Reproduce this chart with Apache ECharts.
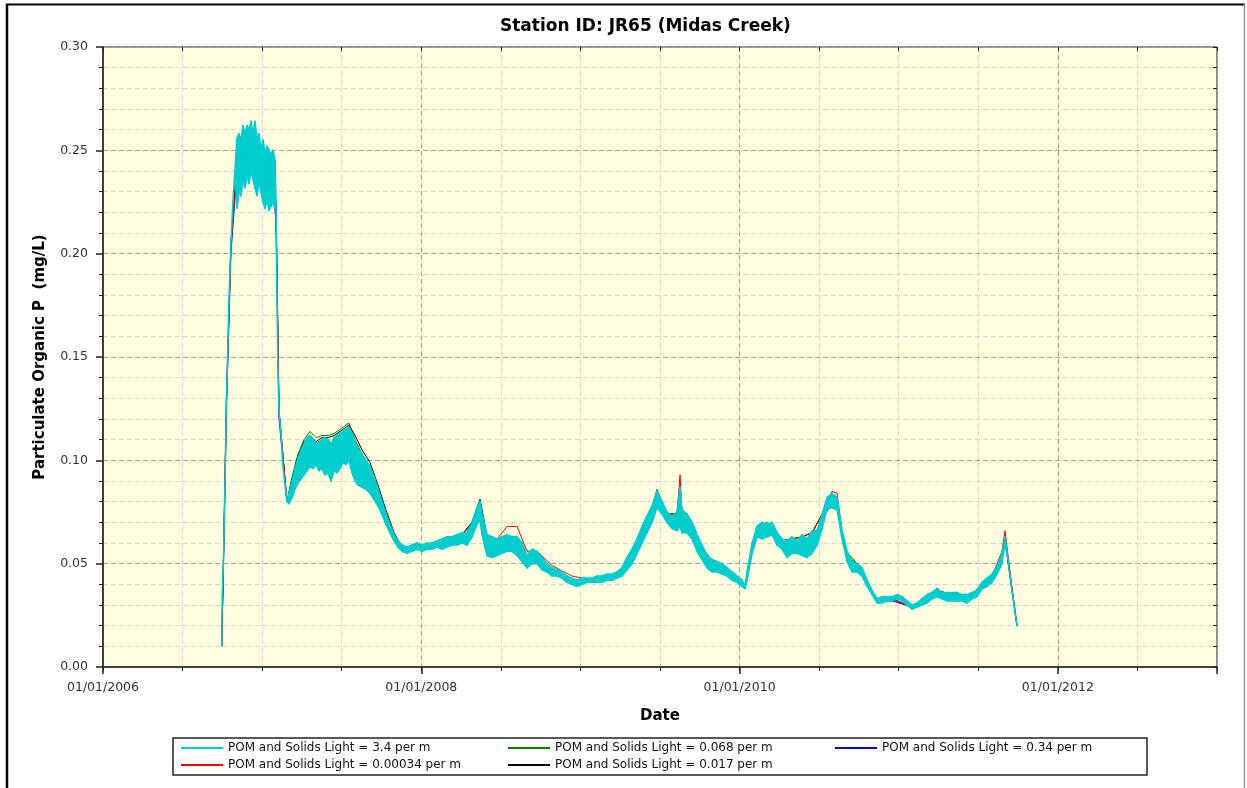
<!DOCTYPE html>
<html>
<head>
    <meta charset="UTF-8">
    <title>Station ID: JR65 (Midas Creek)</title>
    <script src="https://cdn.jsdelivr.net/npm/echarts@6/dist/echarts.min.js"></script>
    <style>
        html, body { margin: 0; padding: 0; background: #fff; }
        #chart { width: 1247px; height: 788px; }
    </style>
</head>
<body>
    <div id="chart"></div>
    <script>
        var names = [
            'POM and Solids Light = 3.4 per m',
            'POM and Solids Light = 0.068 per m',
            'POM and Solids Light = 0.34 per m',
            'POM and Solids Light = 0.00034 per m',
            'POM and Solids Light = 0.017 per m'
        ];

        // 3.4 per m run: dates (decimal year) with the daily high / low of the band
        var cyanYears = [
            2006.746, 2006.749, 2006.757, 2006.767, 2006.776, 2006.792, 2006.804, 2006.817, 2006.829,
            2006.842, 2006.855, 2006.867, 2006.880, 2006.892, 2006.905, 2006.917, 2006.930, 2006.943, 2006.955,
            2006.968, 2006.980, 2006.993, 2007.005, 2007.018, 2007.031, 2007.043, 2007.056, 2007.068, 2007.081,
            2007.087, 2007.093, 2007.100, 2007.106, 2007.119, 2007.131, 2007.144, 2007.156,
            2007.169, 2007.188, 2007.206, 2007.225, 2007.244, 2007.263, 2007.282, 2007.301, 2007.320, 2007.338,
            2007.357, 2007.376, 2007.395, 2007.414, 2007.433, 2007.452, 2007.470, 2007.489, 2007.508, 2007.527,
            2007.546, 2007.565, 2007.584, 2007.602,
            2007.628, 2007.653, 2007.678, 2007.703, 2007.728, 2007.753, 2007.778, 2007.803, 2007.829, 2007.854,
            2007.879, 2007.910, 2007.942, 2007.973, 2008.005, 2008.036, 2008.067, 2008.099, 2008.130, 2008.162,
            2008.193, 2008.224, 2008.256, 2008.287, 2008.319, 2008.350, 2008.369, 2008.382, 2008.413, 2008.444,
            2008.476, 2008.507, 2008.539, 2008.570, 2008.602, 2008.633, 2008.664, 2008.696, 2008.727, 2008.759,
            2008.790, 2008.822, 2008.853, 2008.884, 2008.916, 2008.947, 2008.979, 2009.010, 2009.041, 2009.073,
            2009.104, 2009.136, 2009.167, 2009.198, 2009.230, 2009.261, 2009.293, 2009.324, 2009.356, 2009.387,
            2009.418, 2009.450, 2009.481, 2009.513, 2009.544, 2009.576, 2009.607, 2009.626, 2009.638, 2009.670,
            2009.701, 2009.733, 2009.764, 2009.796, 2009.827, 2009.858, 2009.890, 2009.921, 2009.953, 2009.984,
            2010.016, 2010.034, 2010.047, 2010.079, 2010.110, 2010.141, 2010.173, 2010.204, 2010.236, 2010.267,
            2010.299, 2010.330, 2010.361, 2010.393, 2010.424, 2010.456, 2010.487, 2010.519, 2010.550, 2010.581,
            2010.613, 2010.644, 2010.676, 2010.707, 2010.738, 2010.770, 2010.801, 2010.833, 2010.864, 2010.896,
            2010.927, 2010.958, 2010.990, 2011.021, 2011.052, 2011.084, 2011.115, 2011.147, 2011.178, 2011.209,
            2011.241, 2011.272, 2011.304, 2011.335, 2011.366, 2011.398, 2011.429, 2011.461, 2011.492, 2011.524,
            2011.555, 2011.587, 2011.618, 2011.649, 2011.668, 2011.687, 2011.706, 2011.725, 2011.743
        ];
        var cyanHigh = [
            0.010, 0.034, 0.052, 0.090, 0.130, 0.178, 0.205, 0.226, 0.240,
            0.256, 0.258, 0.255, 0.262, 0.258, 0.262, 0.260, 0.264, 0.258, 0.264,
            0.255, 0.258, 0.250, 0.255, 0.249, 0.252, 0.250, 0.248, 0.250, 0.245,
            0.225, 0.180, 0.140, 0.124, 0.112, 0.097, 0.088, 0.080,
            0.084, 0.090, 0.096, 0.101, 0.105, 0.108, 0.111, 0.112, 0.110, 0.108,
            0.109, 0.110, 0.111, 0.110, 0.108, 0.111, 0.112, 0.113, 0.114, 0.115,
            0.116, 0.113, 0.109, 0.106,
            0.103, 0.100, 0.097, 0.092, 0.086, 0.080, 0.074, 0.069, 0.064, 0.061,
            0.059, 0.058, 0.059, 0.060, 0.059, 0.060, 0.060, 0.061, 0.062, 0.063,
            0.063, 0.064, 0.065, 0.065, 0.070, 0.077, 0.080, 0.074, 0.064, 0.063,
            0.062, 0.063, 0.064, 0.063, 0.063, 0.060, 0.054, 0.057, 0.056, 0.053,
            0.050, 0.048, 0.047, 0.046, 0.044, 0.043, 0.042, 0.043, 0.043, 0.043,
            0.044, 0.044, 0.045, 0.045, 0.046, 0.048, 0.053, 0.057, 0.062, 0.068,
            0.073, 0.078, 0.085, 0.080, 0.075, 0.073, 0.075, 0.087, 0.076, 0.074,
            0.070, 0.064, 0.059, 0.054, 0.052, 0.051, 0.050, 0.048, 0.046, 0.044,
            0.042, 0.039, 0.046, 0.060, 0.068, 0.070, 0.069, 0.070, 0.065, 0.062,
            0.061, 0.063, 0.061, 0.064, 0.062, 0.066, 0.066, 0.074, 0.082, 0.084,
            0.082, 0.066, 0.056, 0.051, 0.050, 0.048, 0.042, 0.037, 0.033, 0.034,
            0.034, 0.034, 0.035, 0.034, 0.032, 0.030, 0.031, 0.033, 0.035, 0.036,
            0.038, 0.036, 0.036, 0.036, 0.036, 0.035, 0.035, 0.036, 0.037, 0.041,
            0.043, 0.045, 0.049, 0.055, 0.063, 0.052, 0.040, 0.030, 0.020
        ];
        var cyanLow = [
            0.010, 0.034, 0.052, 0.090, 0.130, 0.178, 0.205, 0.226, 0.240,
            0.222, 0.230, 0.228, 0.236, 0.232, 0.238, 0.234, 0.240, 0.236, 0.232,
            0.228, 0.235, 0.230, 0.225, 0.222, 0.226, 0.221, 0.223, 0.225, 0.222,
            0.225, 0.180, 0.140, 0.124, 0.112, 0.097, 0.088, 0.080,
            0.079, 0.082, 0.086, 0.089, 0.091, 0.093, 0.095, 0.097, 0.096, 0.098,
            0.095, 0.096, 0.093, 0.094, 0.090, 0.095, 0.094, 0.096, 0.099, 0.098,
            0.100, 0.094, 0.090, 0.088,
            0.087, 0.086, 0.084, 0.081, 0.078, 0.074, 0.069, 0.065, 0.061, 0.058,
            0.056, 0.055, 0.056, 0.057, 0.056, 0.057, 0.057, 0.058, 0.057, 0.058,
            0.059, 0.059, 0.060, 0.059, 0.063, 0.069, 0.071, 0.064, 0.054, 0.053,
            0.054, 0.055, 0.056, 0.056, 0.054, 0.051, 0.048, 0.050, 0.050, 0.047,
            0.046, 0.044, 0.044, 0.043, 0.041, 0.040, 0.039, 0.040, 0.041, 0.041,
            0.041, 0.041, 0.042, 0.042, 0.043, 0.044, 0.047, 0.050, 0.055, 0.060,
            0.065, 0.070, 0.077, 0.074, 0.070, 0.067, 0.066, 0.068, 0.065, 0.065,
            0.062, 0.056, 0.052, 0.048, 0.046, 0.046, 0.045, 0.044, 0.042, 0.041,
            0.039, 0.038, 0.042, 0.055, 0.063, 0.062, 0.063, 0.064, 0.059, 0.057,
            0.053, 0.055, 0.055, 0.054, 0.053, 0.055, 0.059, 0.067, 0.077, 0.077,
            0.076, 0.062, 0.051, 0.046, 0.046, 0.044, 0.039, 0.035, 0.031, 0.031,
            0.032, 0.032, 0.033, 0.032, 0.030, 0.028, 0.029, 0.030, 0.031, 0.033,
            0.034, 0.033, 0.032, 0.032, 0.032, 0.032, 0.031, 0.033, 0.034, 0.038,
            0.039, 0.041, 0.045, 0.050, 0.060, 0.052, 0.040, 0.030, 0.020
        ];

        // the other four runs, read more coarsely (mostly hidden under the 3.4 per m band)
        var otherYears = [
            2006.746, 2006.757, 2006.776, 2006.804, 2006.842, 2006.880, 2006.930, 2006.955, 2006.993, 2007.031,
            2007.068, 2007.087, 2007.106, 2007.156, 2007.188, 2007.225, 2007.263, 2007.301, 2007.338, 2007.376,
            2007.414, 2007.452, 2007.489, 2007.527, 2007.546, 2007.584, 2007.628, 2007.678, 2007.728, 2007.778,
            2007.829, 2007.879, 2008.005, 2008.130, 2008.256, 2008.319, 2008.369, 2008.413, 2008.476, 2008.539,
            2008.602, 2008.664, 2008.727, 2008.822, 2008.947, 2009.073, 2009.198, 2009.261, 2009.324, 2009.387,
            2009.450, 2009.481, 2009.544, 2009.607, 2009.626, 2009.638, 2009.701, 2009.764, 2009.827, 2009.921,
            2010.016, 2010.034, 2010.079, 2010.110, 2010.173, 2010.267, 2010.330, 2010.393, 2010.456, 2010.519,
            2010.581, 2010.613, 2010.644, 2010.676, 2010.707, 2010.770, 2010.833, 2010.864, 2010.958, 2011.084,
            2011.209, 2011.241, 2011.335, 2011.461, 2011.524, 2011.587, 2011.649, 2011.668, 2011.706, 2011.743
        ];
        var greenValues = [
            0.010, 0.052, 0.130, 0.205, 0.245, 0.250, 0.252, 0.250, 0.242, 0.240,
            0.238, 0.224, 0.124, 0.080, 0.092, 0.103, 0.110, 0.114, 0.111, 0.112,
            0.112, 0.113, 0.115, 0.117, 0.118, 0.110, 0.103, 0.097, 0.086, 0.074,
            0.064, 0.058, 0.058, 0.061, 0.064, 0.070, 0.081, 0.063, 0.061, 0.063,
            0.062, 0.053, 0.055, 0.047, 0.042, 0.042, 0.044, 0.047, 0.056, 0.067,
            0.077, 0.086, 0.074, 0.074, 0.088, 0.075, 0.069, 0.058, 0.051, 0.047,
            0.041, 0.038, 0.059, 0.068, 0.070, 0.061, 0.062, 0.063, 0.065, 0.074,
            0.084, 0.082, 0.065, 0.055, 0.053, 0.047, 0.036, 0.033, 0.033, 0.029,
            0.035, 0.037, 0.035, 0.035, 0.040, 0.044, 0.055, 0.064, 0.041, 0.020
        ];
        var blackValues = [
            0.010, 0.052, 0.130, 0.205, 0.243, 0.248, 0.250, 0.248, 0.240, 0.238,
            0.236, 0.224, 0.124, 0.080, 0.091, 0.102, 0.109, 0.112, 0.109, 0.111,
            0.111, 0.112, 0.114, 0.116, 0.117, 0.112, 0.105, 0.099, 0.088, 0.076,
            0.065, 0.058, 0.058, 0.061, 0.064, 0.070, 0.081, 0.063, 0.061, 0.062,
            0.061, 0.053, 0.055, 0.047, 0.042, 0.042, 0.044, 0.047, 0.056, 0.067,
            0.077, 0.085, 0.074, 0.074, 0.079, 0.075, 0.070, 0.058, 0.051, 0.047,
            0.041, 0.038, 0.059, 0.067, 0.069, 0.061, 0.062, 0.063, 0.065, 0.074,
            0.084, 0.081, 0.065, 0.054, 0.052, 0.047, 0.036, 0.033, 0.033, 0.029,
            0.035, 0.037, 0.035, 0.035, 0.040, 0.044, 0.055, 0.063, 0.041, 0.020
        ];
        var redValues = [
            0.010, 0.052, 0.130, 0.205, 0.240, 0.246, 0.248, 0.246, 0.238, 0.236,
            0.234, 0.224, 0.124, 0.080, 0.087, 0.096, 0.102, 0.105, 0.103, 0.104,
            0.103, 0.104, 0.106, 0.108, 0.109, 0.104, 0.098, 0.093, 0.084, 0.073,
            0.063, 0.058, 0.058, 0.061, 0.064, 0.069, 0.079, 0.064, 0.062, 0.068,
            0.068, 0.056, 0.056, 0.049, 0.044, 0.042, 0.044, 0.047, 0.056, 0.067,
            0.077, 0.084, 0.074, 0.074, 0.093, 0.075, 0.069, 0.058, 0.051, 0.047,
            0.041, 0.038, 0.059, 0.067, 0.069, 0.061, 0.062, 0.063, 0.065, 0.074,
            0.085, 0.084, 0.065, 0.054, 0.051, 0.047, 0.036, 0.033, 0.033, 0.029,
            0.035, 0.037, 0.035, 0.035, 0.040, 0.044, 0.056, 0.066, 0.042, 0.020
        ];
        var blueValues = [
            0.010, 0.050, 0.125, 0.200, 0.240, 0.245, 0.248, 0.245, 0.238, 0.236,
            0.234, 0.215, 0.120, 0.080, 0.087, 0.096, 0.101, 0.104, 0.103, 0.103,
            0.102, 0.104, 0.106, 0.107, 0.108, 0.101, 0.095, 0.090, 0.082, 0.071,
            0.062, 0.057, 0.057, 0.060, 0.062, 0.066, 0.075, 0.060, 0.058, 0.059,
            0.058, 0.051, 0.053, 0.046, 0.041, 0.042, 0.044, 0.046, 0.054, 0.064,
            0.074, 0.081, 0.072, 0.071, 0.075, 0.071, 0.066, 0.056, 0.049, 0.046,
            0.040, 0.038, 0.057, 0.065, 0.066, 0.059, 0.059, 0.060, 0.062, 0.071,
            0.080, 0.079, 0.064, 0.053, 0.048, 0.046, 0.036, 0.032, 0.032, 0.029,
            0.034, 0.036, 0.034, 0.034, 0.039, 0.043, 0.052, 0.061, 0.040, 0.020
        ];

        var font = 'DejaVu Sans';
        var cyan = '#00cdcd';

        function pairs(xs, ys) {
            var out = [];
            for (var i = 0; i < xs.length; i++) out.push([xs[i], ys[i]]);
            return out;
        }

        // one item per step of the 3.4 per m band: this date's high/low and the next date's
        var bandData = [];
        for (var i = 0; i + 1 < cyanYears.length; i++) {
            bandData.push([cyanYears[i], cyanHigh[i], cyanLow[i],
                cyanYears[i + 1], cyanHigh[i + 1], cyanLow[i + 1]]);
        }

        function lineSeries(name, color, width, data) {
            return {
                name: name, type: 'line', data: data, z: 2,
                showSymbol: false, symbol: 'none', silent: true,
                lineStyle: {color: color, width: width},
                itemStyle: {color: color},
                emphasis: {disabled: true}
            };
        }

        function legendBlock(left, items) {
            return {
                data: items, left: left, top: 737, orient: 'vertical',
                icon: 'rect', itemWidth: 42, itemHeight: 2, itemGap: 5,
                selectedMode: false, z: 5,
                textStyle: {fontFamily: font, fontSize: 12, color: '#111'}
            };
        }

        var chart = echarts.init(document.getElementById('chart'), null, {renderer: 'canvas'});
        chart.setOption({
            animation: false,
            backgroundColor: '#fff',
            textStyle: {fontFamily: font},
            title: {
                text: 'Station ID: JR65 (Midas Creek)',
                left: 495, top: 13,
                textStyle: {fontFamily: font, fontSize: 17, fontWeight: 'bold', color: '#000'}
            },
            grid: {
                left: 103, right: 30, top: 47, bottom: 121,
                show: true, backgroundColor: '#ffffe0', borderColor: '#222', borderWidth: 1
            },
            legend: [
                legendBlock(176, [names[0], names[3]]),
                legendBlock(503, [names[1], names[4]]),
                legendBlock(830, [names[2]])
            ],
            xAxis: [
                {   // half-year ticks and light grid
                    type: 'value', min: 2006, max: 2013, interval: 0.5, position: 'bottom',
                    axisLine: {show: false},
                    axisTick: {length: 4, lineStyle: {color: '#222'}},
                    axisLabel: {show: false},
                    splitLine: {show: true, lineStyle: {color: '#d4d4d4', type: [5, 3]}}
                },
                {   // two-year ticks, labels and darker grid
                    type: 'value', min: 2006, max: 2013, interval: 2, position: 'bottom',
                    axisLine: {lineStyle: {color: '#222', width: 1.5}},
                    axisTick: {length: 7, lineStyle: {color: '#222', width: 1.5}},
                    axisLabel: {
                        fontFamily: font, fontSize: 12.5, color: '#333', margin: 14,
                        formatter: function (v) { return (v % 2 === 0 && v < 2013) ? '01/01/' + v : ''; }
                    },
                    splitLine: {show: true, lineStyle: {color: '#a0a0a0', type: [5, 3]}},
                    name: 'Date', nameLocation: 'middle', nameGap: 42,
                    nameTextStyle: {fontFamily: font, fontSize: 15, fontWeight: 'bold', color: '#000'}
                },
                {   // top frame ticks
                    type: 'value', min: 2006, max: 2013, interval: 0.5, position: 'top',
                    axisLine: {show: false},
                    axisTick: {inside: true, length: 4, lineStyle: {color: '#222'}},
                    axisLabel: {show: false},
                    splitLine: {show: false}
                }
            ],
            yAxis: [
                {
                    type: 'value', min: 0, max: 0.3, interval: 0.05, position: 'left',
                    axisLine: {show: true, lineStyle: {color: '#222', width: 1.5}},
                    axisTick: {show: true, length: 7, lineStyle: {color: '#222', width: 1.5}},
                    minorTick: {show: true, splitNumber: 5, length: 4, lineStyle: {color: '#222'}},
                    axisLabel: {
                        fontFamily: font, fontSize: 12.5, color: '#333', margin: 15,
                        formatter: function (v) { return v.toFixed(2); }
                    },
                    splitLine: {show: true, lineStyle: {color: '#a0a0a0', type: [5, 3]}},
                    minorSplitLine: {show: true, lineStyle: {color: '#d4d4d4', type: [5, 3]}},
                    name: 'Particulate Organic P  (mg/L)', nameLocation: 'middle', nameGap: 55,
                    nameTextStyle: {fontFamily: font, fontSize: 15, fontWeight: 'bold', color: '#000'}
                },
                {   // right frame ticks
                    type: 'value', min: 0, max: 0.3, interval: 0.01, position: 'right',
                    axisLine: {show: false},
                    axisTick: {show: true, inside: true, length: 4, lineStyle: {color: '#222'}},
                    axisLabel: {show: false},
                    splitLine: {show: false}
                }
            ],
            series: [
                lineSeries(names[2], '#0000ff', 1, pairs(otherYears, blueValues)),
                lineSeries(names[1], '#008000', 1, pairs(otherYears, greenValues)),
                lineSeries(names[4], '#000000', 1, pairs(otherYears, blackValues)),
                lineSeries(names[3], '#ff0000', 1, pairs(otherYears, redValues)),
                {
                    name: names[0], type: 'custom', data: bandData, silent: true, z: 6,
                    encode: {x: [0, 3], y: [1, 2, 4, 5]},
                    itemStyle: {color: cyan},
                    renderItem: function (params, api) {
                        var a = api.coord([api.value(0), api.value(1)]);
                        var b = api.coord([api.value(0), api.value(2)]);
                        var c = api.coord([api.value(3), api.value(5)]);
                        var d = api.coord([api.value(3), api.value(4)]);
                        return {
                            type: 'polygon',
                            shape: {points: [a, b, c, d]},
                            style: {fill: cyan, stroke: cyan, lineWidth: 1.6, lineJoin: 'round'}
                        };
                    }
                }
            ],
            graphic: [
                {type: 'rect', z: 1, shape: {x: 173, y: 738, width: 974, height: 37},
                    style: {fill: '#fff', stroke: '#222', lineWidth: 1.5}},
                {type: 'line', shape: {x1: 7, y1: 4, x2: 7, y2: 788}, style: {stroke: '#000', lineWidth: 2.5}},
                {type: 'line', shape: {x1: 6, y1: 4.5, x2: 1245, y2: 4.5}, style: {stroke: '#000', lineWidth: 2}},
                {type: 'line', shape: {x1: 1244.5, y1: 4, x2: 1244.5, y2: 788}, style: {stroke: '#999', lineWidth: 1.5}}
            ]
        });
    </script>
</body>
</html>
